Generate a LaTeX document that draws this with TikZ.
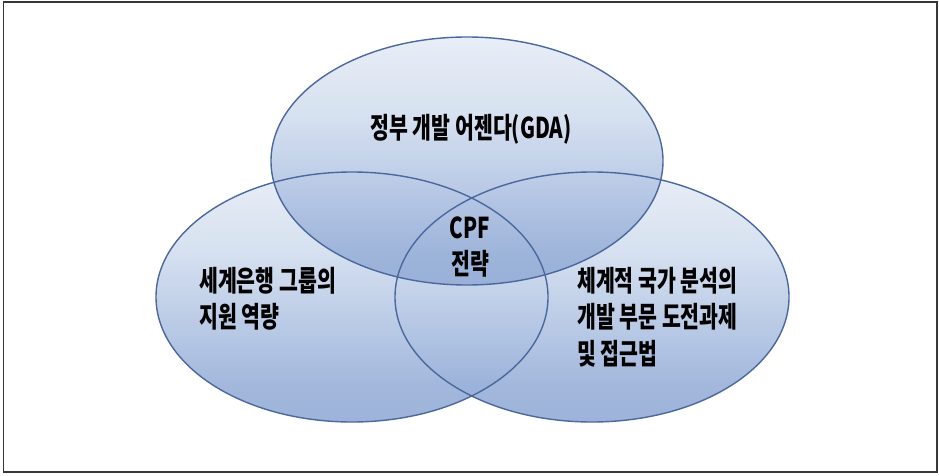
\documentclass[tikz,border=0pt]{standalone}
\usepackage{fontspec}
\usepackage{graphicx}
\newfontfamily\kr{Noto Sans CJK KR}

% colours of the circles (top to bottom of each shape) and of their edges
\definecolor{vennA}{RGB}{231,237,247}
\definecolor{vennB}{RGB}{213,224,240}
\definecolor{vennC}{RGB}{182,200,229}
\definecolor{vennD}{RGB}{155,178,217}
\definecolor{vennE}{RGB}{150,174,215}
\definecolor{vennLine}{RGB}{75,104,158}
\definecolor{frameGray}{RGB}{55,55,55}

\pgfdeclareverticalshading{vennshade}{100bp}{%
  color(0bp)=(vennE); color(25bp)=(vennE); color(32bp)=(vennD);
  color(45bp)=(vennC); color(60bp)=(vennB); color(75bp)=(vennA);
  color(100bp)=(vennA)}

% tall, narrow lettering: a tabular stretched vertically
\newcommand\tallblock[2]{\scalebox{1}[1.4]{\begin{tabular}[t]{@{}#1@{}}#2\end{tabular}}}

\tikzset{
  vennfill/.style={shading=vennshade, fill opacity=0.93},
  vennedge/.style={draw=vennLine, line width=1.4pt},
  vtext/.style={inner sep=0pt, text=black, font=\kr\bfseries\fontsize{20.5}{26.1}\selectfont},
}

\begin{document}
\begin{tikzpicture}[x=1pt, y=1pt]
  \useasboundingbox (0,0) rectangle (939,475);
  \fill[white] (0,0) rectangle (939,475);

  % outer frame
  \draw[frameGray, line width=1.3pt] (3.5,473) rectangle (937,3);

  % shaded circles
  \shade[vennfill] (352,178) ellipse [x radius=196pt, y radius=125pt];
  \shade[vennfill] (592,178) ellipse [x radius=197pt, y radius=125pt];
  \shade[vennfill] (467,314) ellipse [x radius=196pt, y radius=124pt];

  % outlines
  \draw[vennedge] (352,178) ellipse [x radius=196pt, y radius=125pt];
  \draw[vennedge] (592,178) ellipse [x radius=197pt, y radius=125pt];
  \draw[vennedge] (467,314) ellipse [x radius=196pt, y radius=124pt];

  % labels
  \node[vtext, anchor=base] (gda) at (471,337) {\tallblock{c}{정부 개발 어젠다(GDA)}};
  \node[vtext, anchor=base] (cpf) at (470,237) {\tallblock{c}{CPF\\전략}};
  \node[vtext, anchor=base west] (wbg) at (199,184) {\tallblock{l}{세계은행 그룹의\\지원 역량}};
  \node[vtext, anchor=base west] (sca) at (577,184) {\tallblock{l}{체계적 국가 분석의\\개발 부문 도전과제\\및 접근법}};
\end{tikzpicture}
\end{document}
